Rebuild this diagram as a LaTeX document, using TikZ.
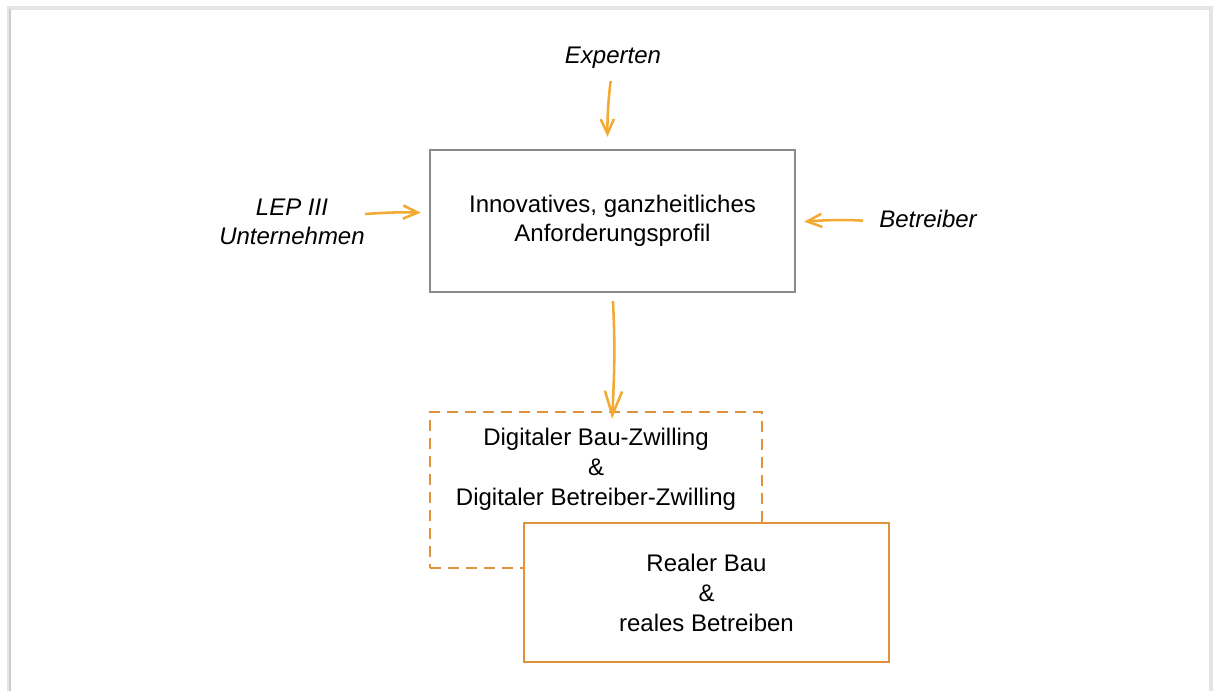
\documentclass[tikz,border=0pt]{standalone}
\usepackage{fontspec}
\setmainfont{Liberation Sans}
\usetikzlibrary{arrows.meta,positioning}
\definecolor{pfeilorange}{RGB}{243,170,50}
\definecolor{boxorange}{RGB}{224,145,60}
\definecolor{boxgrau}{RGB}{138,138,138}

\begin{document}
\begin{tikzpicture}[
        x=0.75pt, y=-0.75pt,
        every node/.style={font=\fontsize{18}{22.5}\selectfont, align=center, inner sep=0pt},
        quelle/.style={font=\fontsize{18}{22}\selectfont\itshape},
        kasten/.style={draw=boxgrau, line width=1.8pt, minimum width=273.75pt, minimum height=106.5pt, font=\fontsize{18}{22}\selectfont},
        digibox/.style={draw=boxorange, line width=1.8pt, dash pattern=on 8pt off 5.5pt, minimum width=249pt, minimum height=117pt},
        realbox/.style={draw=boxorange, fill=white, line width=1.8pt, minimum width=273.75pt, minimum height=104.25pt},
        pfeil/.style={draw=pfeilorange, line width=1.9pt, -{Straight Barb[length=11pt,width=10pt]}},
    ]
    \useasboundingbox (0,0) rectangle (1214,691);
    \draw[black!10, line width=2.5pt] (9,700) -- (9,8) -- (1211,8) -- (1211,700);
    \draw[black!20, line width=1pt] (10,700) -- (10,9);

    \node[kasten](profil) at (612.5,221){Innovatives, ganzheitliches\\ Anforderungsprofil};
    \node[quelle](experten) at (613,58){Experten};
    \node[quelle](lep) at (292,222){LEP III\\ Unternehmen};
    \node[quelle](betreiber) at (928,219){Betreiber};

    \node[digibox](digital) at (596,490){};
    \node[below=12.5pt of digital.north](digitext){Digitaler Bau-Zwilling\\ \&\\ Digitaler Betreiber-Zwilling};
    \node[realbox](real) at (706.5,592.5){Realer Bau\\ \&\\ reales Betreiben};

    \draw[pfeil, shorten <=9pt, shorten >=9pt] (experten) to[bend right=4] (profil);
    \draw[pfeil, shorten >=6pt] ([yshift=6pt]lep.east) to[bend left=3] ([yshift=6pt]profil.west);
    \draw[pfeil, shorten <=12pt, shorten >=6pt] ([yshift=-2pt]betreiber.west) to[bend right=4] ([yshift=-1pt]profil.east);
    \draw[pfeil, -{Straight Barb[length=18pt,width=13pt]}, shorten <=6pt, shorten >=-6pt] (profil.south) to[bend left=3] (profil.south |- digital.north);

\end{tikzpicture}
\end{document}
